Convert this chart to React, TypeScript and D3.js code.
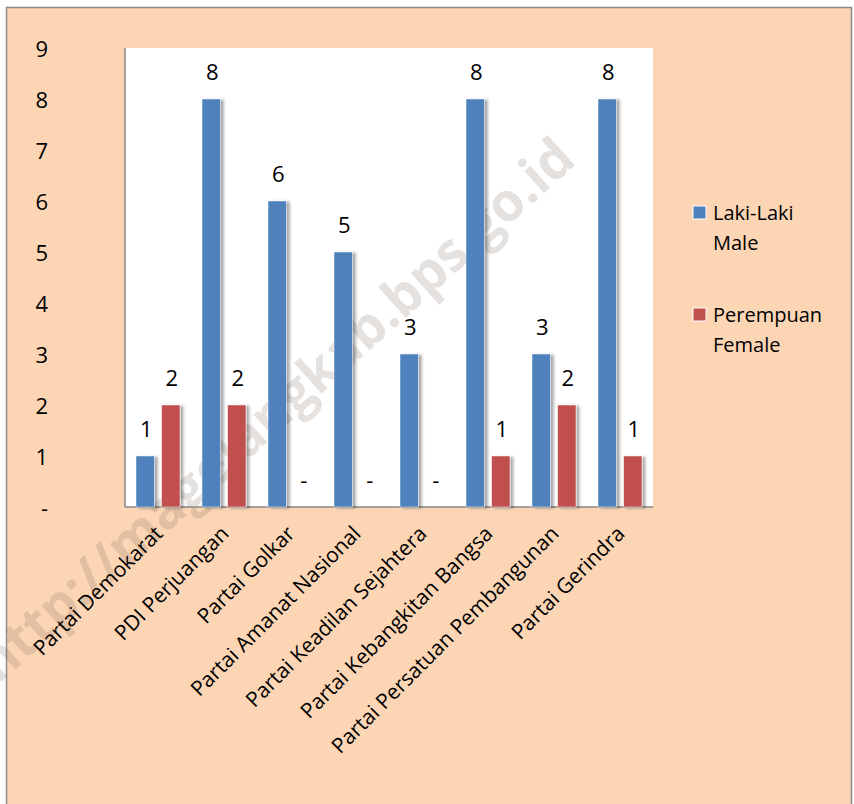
import React from 'react';
import * as d3 from 'd3';

const categories = [
  'Partai Demokarat',
  'PDI Perjuangan',
  'Partai Golkar',
  'Partai Amanat Nasional',
  'Partai Keadilan Sejahtera',
  'Partai Kebangkitan Bangsa',
  'Partai Persatuan Pembangunan',
  'Partai Gerindra',
];
const seriesKeys = ['male', 'female'];
const maleValues = [1, 8, 6, 5, 3, 8, 3, 8];
const femaleValues = [2, 2, 0, 0, 0, 1, 2, 1];
const yTicks = [0, 1, 2, 3, 4, 5, 6, 7, 8, 9];
const legendItems = [
  { key: 'male', lines: ['Laki-Laki', 'Male'] },
  { key: 'female', lines: ['Perempuan', 'Female'] },
];

const COLORS: Record<string, string> = { male: '#4F81BD', female: '#C0504D' };
const FONT = '"Open Sans", sans-serif';

const W = 854;
const H = 804;
const plot = { left: 125, right: 653, top: 48, bottom: 507 };

const fmt = (v: number) => (v === 0 ? '-' : String(v));

export default function App() {
  const x = d3.scaleBand<string>().domain(categories).range([plot.left, plot.right]);
  const inner = d3
    .scaleBand<string>()
    .domain(seriesKeys)
    .range([-22, 22])
    .paddingInner(0.28);
  const y = d3.scaleLinear().domain([0, 9]).range([plot.bottom, plot.top]);

  const rows = categories.map((c, i) => ({
    cat: c,
    values: [
      { key: 'male', v: maleValues[i] },
      { key: 'female', v: femaleValues[i] },
    ],
  }));

  return (
    <div style={{ position: 'absolute', left: 0, top: 0 }}>
      <svg width={W} height={H} style={{ display: 'block' }}>
        <defs>
          <filter id="shadow" x="-50%" y="-10%" width="200%" height="120%">
            <feDropShadow dx="3" dy="1" stdDeviation="1.6" floodColor="#000" floodOpacity="0.35" />
          </filter>
        </defs>
        <rect x={0} y={0} width={W} height={H} fill="#ffffff" />
        <rect x={6.5} y={7.5} width={845} height={H + 10} fill="#FCD5B5" stroke="#8a8a8a" strokeWidth={1.5} />
        <rect
          x={plot.left}
          y={plot.top}
          width={plot.right - plot.left}
          height={plot.bottom - plot.top}
          fill="#ffffff"
        />

        {/* watermark */}
        <text
          transform="translate(274,408) rotate(-42)"
          textAnchor="middle"
          dominantBaseline="central"
          fontFamily={FONT}
          fontWeight="bold"
          fontSize={54}
          fill="#7a6a60"
          fillOpacity={0.2}
          textLength={780}
          lengthAdjust="spacingAndGlyphs"
        >
          http://magelangkab.bps.go.id
        </text>

        {/* axes */}
        <line x1={plot.left} x2={plot.left} y1={plot.top} y2={plot.bottom} stroke="#868686" strokeWidth={1.5} />
        <line x1={plot.left} x2={plot.right} y1={plot.bottom} y2={plot.bottom} stroke="#868686" strokeWidth={1.5} />

        {yTicks.map((t) => (
          <text
            key={t}
            x={48}
            y={y(t)}
            textAnchor="end"
            dominantBaseline="central"
            fontFamily={FONT}
            fontSize={22}
            fill="#000"
          >
            {fmt(t)}
          </text>
        ))}

        {/* bars */}
        {rows.map((r) => {
          const cx = (x(r.cat) as number) + x.bandwidth() / 2;
          return (
            <g key={r.cat}>
              {r.values.map((d) =>
                d.v > 0 ? (
                  <rect
                    key={d.key}
                    x={cx + (inner(d.key) as number)}
                    y={y(d.v)}
                    width={inner.bandwidth()}
                    height={y(0) - y(d.v)}
                    fill={COLORS[d.key]}
                    stroke="#ffffff"
                    strokeOpacity={0.6}
                    strokeWidth={0.8}
                    filter="url(#shadow)"
                  />
                ) : null
              )}
              {r.values.map((d) => (
                <text
                  key={d.key + '-l'}
                  x={cx + (inner(d.key) as number) + inner.bandwidth() / 2 + 1}
                  y={y(d.v) - 19}
                  textAnchor="middle"
                  fontFamily={FONT}
                  fontSize={22}
                  fill="#000"
                >
                  {fmt(d.v)}
                </text>
              ))}
              <text
                transform={`translate(${cx + 6},${plot.bottom + 28}) rotate(-45)`}
                textAnchor="end"
                fontFamily={FONT}
                fontSize={21}
                fill="#000"
              >
                {r.cat}
              </text>
            </g>
          );
        })}

        {/* legend */}
        {legendItems.map((item, i) => {
          const top = 206 + i * 102;
          return (
            <g key={item.key}>
              <rect x={693} y={top} width={13} height={13} fill={COLORS[item.key]} stroke="#ffffff" strokeWidth={1} />
              {item.lines.map((ln, j) => (
                <text key={ln} x={713} y={top + 14 + j * 30} fontFamily={FONT} fontSize={20} fill="#000">
                  {ln}
                </text>
              ))}
            </g>
          );
        })}
      </svg>
    </div>
  );
}
